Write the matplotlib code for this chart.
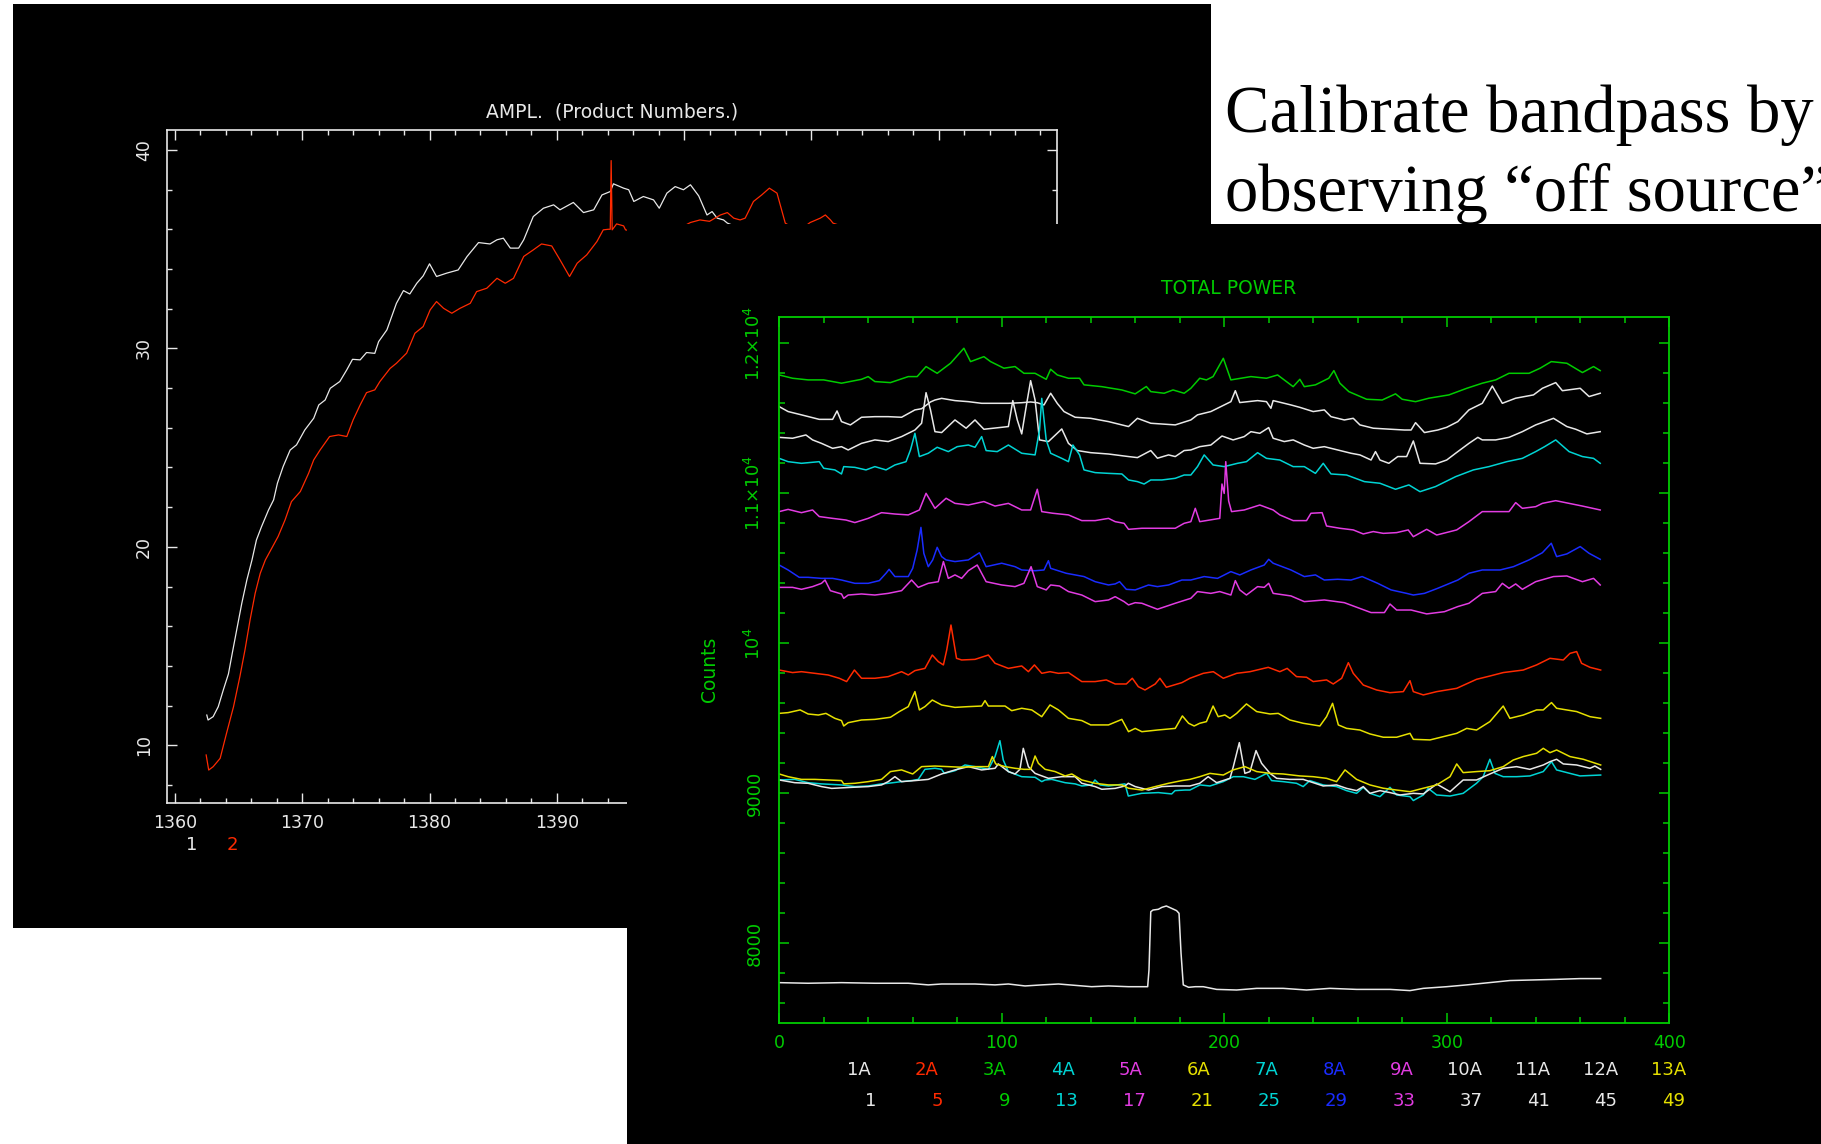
import matplotlib.pyplot as plt
from matplotlib.patches import Rectangle
from matplotlib.ticker import MultipleLocator

# ---------------- AMPL. panel: bandpass amplitude vs frequency ----------------
ampl_1 = [(1362.5, 11.53), (1362.6, 11.28), (1363.0, 11.45), (1363.4, 11.95), (1363.8, 12.8),
          (1364.2, 13.6), (1364.5, 14.64), (1364.85, 15.82), (1365.25, 17.16), (1365.65, 18.34),
          (1366.05, 19.34), (1366.4, 20.35), (1366.8, 21.02), (1367.35, 21.86), (1367.75, 22.37),
          (1368.05, 23.21), (1368.5, 24.05), (1369.05, 24.88), (1369.55, 25.14), (1370.2, 25.89),
          (1370.9, 26.48), (1371.3, 27.15), (1371.8, 27.4), (1372.2, 27.99), (1372.95, 28.33),
          (1373.5, 28.92), (1373.95, 29.45), (1374.55, 29.42), (1375.05, 29.79), (1375.7, 29.75),
          (1376.0, 30.34), (1376.65, 30.93), (1377.4, 32.27), (1377.95, 32.91), (1378.45, 32.74),
          (1379.0, 33.28), (1379.5, 33.65), (1380.0, 34.26), (1380.55, 33.62), (1381.35, 33.79),
          (1382.25, 33.95), (1382.95, 34.63), (1383.85, 35.33), (1384.75, 35.26), (1385.3, 35.47),
          (1385.8, 35.55), (1386.35, 35.05), (1387.0, 35.05), (1387.4, 35.47), (1388.15, 36.64),
          (1388.95, 37.06), (1389.75, 37.23), (1390.25, 36.98), (1391.3, 37.35), (1392.1, 36.84),
          (1392.9, 36.98), (1393.55, 37.73), (1394.2, 37.9), (1394.45, 38.29), (1395.25, 38.07),
          (1395.65, 37.99), (1396.05, 37.4), (1396.8, 37.65), (1397.6, 37.48), (1398.05, 37.06),
          (1398.65, 37.82), (1399.3, 38.15), (1399.95, 37.99), (1400.5, 38.24), (1401.15, 37.68),
          (1401.8, 36.72), (1402.2, 36.89), (1402.6, 36.56), (1403.1, 36.47), (1403.4, 36.31),
          (1405.0, 35.9), (1410.0, 35.6), (1416.0, 35.2), (1422.0, 35.3), (1428.0, 35.0)]

ampl_2 = [(1362.45, 9.52), (1362.65, 8.76), (1363.0, 8.93), (1363.55, 9.35), (1364.05, 10.61),
          (1364.6, 11.95), (1365.1, 13.47), (1365.5, 14.81), (1365.9, 16.32), (1366.3, 17.66),
          (1366.7, 18.67), (1367.1, 19.34), (1367.6, 19.93), (1368.1, 20.52), (1368.65, 21.36),
          (1369.15, 22.28), (1369.85, 22.79), (1370.5, 23.71), (1370.9, 24.38), (1371.4, 24.88),
          (1372.15, 25.56), (1372.85, 25.64), (1373.5, 25.56), (1374.0, 26.4), (1374.55, 27.15),
          (1375.05, 27.77), (1375.7, 27.91), (1376.1, 28.33), (1376.9, 28.99), (1377.4, 29.25),
          (1378.2, 29.76), (1378.85, 30.76), (1379.5, 31.1), (1380.05, 31.94), (1380.55, 32.36),
          (1381.1, 32.02), (1381.75, 31.77), (1382.4, 32.02), (1383.2, 32.27), (1383.7, 32.86),
          (1384.5, 33.03), (1385.3, 33.53), (1385.95, 33.28), (1386.6, 33.53), (1387.4, 34.63),
          (1388.15, 34.96), (1388.8, 35.26), (1389.6, 35.16), (1390.25, 34.46), (1391.0, 33.62),
          (1391.6, 34.29), (1392.35, 34.71), (1393.15, 35.38), (1393.65, 35.97), (1394.05, 36.0),
          (1394.2, 36.0), (1394.27, 39.46), (1394.35, 35.97), (1394.7, 36.27), (1395.25, 36.17),
          (1395.4, 35.97), (1397.5, 35.7), (1399.5, 36.0), (1400.5, 36.34), (1401.25, 36.47),
          (1402.0, 36.4), (1402.85, 36.72), (1403.4, 36.84), (1403.9, 36.56), (1404.4, 36.47),
          (1404.8, 36.56), (1405.45, 37.4), (1406.1, 37.73), (1406.7, 38.07), (1407.3, 37.82),
          (1407.7, 36.89), (1407.95, 36.31), (1409.0, 35.9), (1409.9, 36.34), (1410.7, 36.56),
          (1411.1, 36.72), (1411.5, 36.47), (1411.7, 36.31), (1414.0, 35.8), (1420.0, 35.9),
          (1428.0, 35.6)]

ampl_xticks = [1360, 1370, 1380, 1390, 1400, 1410, 1420]
ampl_yticks = [10, 20, 30, 40]

# ---------------- TOTAL POWER panel: counts per channel ----------------
tp_3A = [(0, 11790), (6, 11768), (13, 11757), (20, 11757), (28, 11735), (37, 11761), (40, 11779),
         (43, 11746), (50, 11739), (58, 11779), (62, 11779), (66, 11846), (71, 11801), (77, 11868),
         (83, 11968), (86, 11879), (92, 11912), (95, 11879), (101, 11835), (106, 11846), (110, 11801),
         (115, 11801), (120, 11761), (122, 11828), (125, 11790), (130, 11768), (135, 11768),
         (137, 11724), (145, 11712), (154, 11690), (160, 11664), (165, 11713), (167, 11679),
         (173, 11668), (177, 11690), (182, 11668), (185, 11701), (189, 11768), (192, 11757),
         (195, 11779), (199.6, 11901), (203, 11757), (212, 11779), (219, 11768), (224, 11790),
         (231, 11712), (234, 11761), (236, 11712), (241, 11724), (247, 11768), (249.3, 11819),
         (252, 11735), (256, 11679), (264, 11628), (271, 11623), (277, 11664), (280, 11628),
         (286, 11612), (292, 11635), (301, 11657), (309, 11701), (316, 11735), (322, 11757),
         (328, 11801), (337, 11801), (342, 11835), (347, 11879), (354, 11868), (361, 11806),
         (366, 11846), (369, 11819)]

tp_10A = [(0, 11579), (4, 11546), (10, 11524), (18, 11494), (24, 11494), (26, 11550), (28, 11479),
          (32, 11457), (37, 11508), (43, 11512), (49, 11512), (55, 11508), (61, 11557), (64, 11565),
          (68, 11610), (70, 11623), (73, 11634), (79, 11619), (85, 11612), (91, 11601), (97, 11601),
          (103, 11601), (109, 11605), (113, 11610), (116, 11605), (119, 11590), (122, 11668),
          (125, 11600), (128, 11546), (133, 11508), (140, 11501), (148, 11479), (157, 11446),
          (161, 11501), (167, 11468), (178, 11457), (185, 11490), (188, 11524), (194, 11546),
          (200, 11590), (203, 11612), (205, 11685), (207, 11606), (215, 11619), (219, 11612),
          (221, 11568), (222, 11619), (227, 11601), (230, 11590), (234, 11574), (240, 11546),
          (245, 11557), (248, 11512), (254, 11490), (258, 11501), (261, 11457), (267, 11435),
          (275, 11428), (281, 11423), (284, 11423), (286, 11472), (290, 11406), (296, 11423),
          (300, 11441), (305, 11479), (310, 11557), (316, 11601), (320.5, 11716), (325, 11601),
          (331, 11635), (339, 11657), (343, 11701), (349, 11739), (352, 11685), (360, 11701),
          (364, 11646), (369, 11668)]

tp_11A = [(0, 11374), (6, 11368), (12, 11390), (15, 11357), (19, 11334), (24, 11301), (28, 11312),
          (31, 11290), (37, 11334), (43, 11357), (49, 11346), (55, 11379), (61, 11423), (64, 11468),
          (66, 11672), (68, 11557), (70, 11412), (73, 11406), (79, 11490), (84, 11435), (88, 11490),
          (92, 11428), (100, 11441), (103, 11446), (105, 11619), (107, 11490), (109, 11397),
          (111, 11579), (113, 11752), (115, 11623), (117, 11357), (121, 11346), (127, 11430),
          (130, 11334), (134, 11286), (140, 11272), (148, 11263), (157, 11246), (161, 11239),
          (167, 11286), (170, 11235), (175, 11257), (178, 11246), (182, 11286), (185, 11290),
          (189, 11312), (194, 11323), (199, 11383), (204, 11357), (209, 11379), (212, 11412),
          (216, 11401), (220, 11439), (222, 11368), (227, 11346), (231, 11357), (236, 11323),
          (240, 11301), (245, 11312), (251, 11290), (257, 11268), (261, 11257), (266, 11223),
          (268, 11279), (270, 11223), (274, 11201), (278, 11246), (282, 11246), (285, 11350),
          (288, 11201), (295, 11197), (300, 11223), (304, 11268), (310, 11334), (314, 11374),
          (316, 11357), (322, 11357), (328, 11374), (334, 11412), (340, 11457), (348, 11501),
          (354, 11446), (358, 11428), (363, 11397), (369, 11412)]

tp_7A = [(0, 11234), (4, 11212), (10, 11201), (18, 11212), (20, 11168), (25, 11157), (28, 11130),
         (29, 11179), (34, 11174), (39, 11157), (43, 11179), (48, 11157), (52, 11190), (57, 11212),
         (59, 11290), (61, 11401), (63, 11246), (67, 11268), (71, 11308), (76, 11279), (80, 11312),
         (85, 11323), (88, 11308), (91, 11379), (93, 11286), (98, 11279), (103, 11323), (109, 11268),
         (115, 11257), (117, 11423), (118, 11634), (120, 11357), (122, 11268), (127, 11234),
         (130, 11212), (132, 11323), (135, 11257), (137, 11157), (142, 11139), (148, 11134),
         (154, 11130), (157, 11090), (161, 11079), (164, 11063), (167, 11090), (172, 11090),
         (178, 11101), (182, 11123), (185, 11123), (188, 11179), (191, 11257), (195, 11190),
         (200, 11179), (206, 11201), (210, 11212), (215, 11272), (219, 11234), (225, 11223),
         (231, 11179), (236, 11179), (241, 11134), (244.5, 11201), (248, 11130), (255, 11123),
         (263, 11079), (270, 11068), (277, 11028), (283, 11057), (288, 11012), (295, 11046),
         (304, 11112), (312, 11157), (319, 11179), (327, 11212), (334, 11234), (340, 11279),
         (344, 11312), (349, 11357), (355, 11279), (361, 11246), (366, 11234), (369, 11201)]

tp_9A = [(0, 10879), (4, 10894), (10, 10872), (15, 10890), (18, 10846), (24, 10834), (30, 10823),
         (34, 10806), (40, 10834), (46, 10872), (52, 10863), (58, 10857), (63, 10890), (66, 11001),
         (70, 10901), (75, 10968), (79, 10934), (85, 10923), (92, 10946), (97, 10916), (103, 10934),
         (109, 10890), (113, 10890), (116, 11028), (118, 10879), (123, 10868), (130, 10857),
         (136, 10819), (142, 10819), (148, 10834), (151, 10812), (155, 10801), (157, 10761),
         (163, 10768), (170, 10768), (178, 10768), (182, 10801), (185, 10812), (187, 10901),
         (189, 10812), (198, 10834), (199, 11063), (200, 11000), (200.7, 11212), (202, 10950),
         (203.3, 10879), (209, 10890), (216, 10923), (222, 10890), (225, 10857), (231, 10819),
         (237, 10819), (239, 10868), (244, 10872), (246, 10783), (252, 10768), (258, 10757),
         (262.5, 10730), (267, 10746), (271.5, 10734), (277.5, 10739), (282.7, 10757), (285, 10712),
         (291, 10761), (295.5, 10723), (304.5, 10757), (310, 10812), (316, 10879), (322, 10879),
         (328, 10879), (331, 10939), (334, 10901), (340, 10912), (343, 10934), (349, 10952),
         (355, 10934), (361, 10916), (369, 10890)]

tp_8A = [(0, 10523), (4, 10490), (9, 10441), (13, 10441), (19, 10434), (24, 10434), (28, 10423),
         (34, 10401), (40, 10401), (45, 10419), (48, 10468), (49.4, 10494), (52, 10446), (58, 10446),
         (60, 10501), (62, 10623), (63.7, 10774), (65, 10601), (67, 10512), (69, 10557), (71, 10641),
         (73, 10579), (75, 10557), (79, 10546), (85, 10557), (90, 10605), (93, 10512), (100, 10535),
         (106, 10512), (109, 10490), (115, 10485), (119, 10490), (121, 10552), (122, 10501),
         (129, 10468), (133, 10457), (137, 10446), (142, 10412), (148, 10390), (151, 10397),
         (153, 10412), (156, 10361), (160, 10357), (166, 10390), (170, 10379), (175, 10390),
         (181, 10423), (185, 10423), (191, 10446), (197, 10434), (203, 10479), (207, 10457),
         (212, 10490), (218, 10523), (220, 10561), (222, 10535), (230, 10490), (236, 10446),
         (241, 10457), (245, 10423), (251, 10428), (257, 10423), (262, 10446), (269, 10401),
         (275, 10357), (282, 10334), (285, 10323), (290, 10334), (296, 10368), (305, 10423),
         (310, 10468), (316, 10490), (324, 10490), (330, 10512), (337, 10557), (343, 10605),
         (347, 10668), (349.4, 10579), (354, 10597), (360, 10646), (364, 10601), (369, 10561)]

tp_5A = [(0, 10374), (6, 10374), (10, 10361), (15, 10379), (19, 10401), (20.6, 10423), (23, 10352),
         (28, 10330), (29, 10301), (31, 10323), (37, 10330), (43, 10323), (49, 10334), (55, 10352),
         (59.5, 10423), (62.5, 10374), (67, 10401), (71.5, 10412), (73.8, 10546), (76, 10434),
         (79, 10457), (82, 10434), (85, 10485), (89, 10523), (93, 10412), (100, 10390), (106, 10379),
         (110, 10401), (113.2, 10512), (116, 10379), (120, 10357), (122, 10390), (126, 10383),
         (130, 10346), (136, 10323), (142, 10279), (148, 10290), (151, 10312), (155, 10279),
         (157, 10257), (160, 10272), (163, 10268), (170, 10228), (178, 10268), (185, 10301),
         (188, 10346), (194, 10334), (198, 10346), (203, 10323), (205, 10419), (207, 10357),
         (210, 10323), (215, 10379), (218, 10374), (220, 10401), (222, 10334), (230, 10317),
         (236, 10279), (245, 10290), (254, 10272), (258, 10250), (266, 10206), (272, 10206),
         (274.5, 10263), (277.5, 10223), (284, 10223), (291, 10197), (299, 10212), (305, 10246),
         (310, 10268), (316, 10334), (322, 10346), (325, 10401), (328, 10368), (331, 10397),
         (334, 10361), (340, 10412), (348, 10446), (354, 10450), (361, 10412), (366, 10434),
         (369, 10390)]

tp_2A = [(0, 9823), (6, 9806), (10, 9812), (16, 9801), (22, 9790), (27, 9768), (30.3, 9746),
         (33.8, 9823), (37, 9768), (43, 9768), (49, 9779), (55, 9812), (58, 9790), (61, 9819),
         (65.5, 9834), (68.8, 9923), (71.5, 9879), (73.8, 9857), (75.3, 9957), (77.2, 10123),
         (79.7, 9901), (82, 9890), (88, 9894), (94, 9923), (97, 9868), (103, 9834), (109, 9850),
         (112, 9812), (114.7, 9857), (118, 9801), (121.7, 9812), (125.5, 9801), (130, 9806),
         (136, 9746), (142, 9746), (147, 9757), (151, 9730), (156, 9730), (158.7, 9768),
         (161.4, 9712), (164.4, 9690), (169, 9730), (171.1, 9768), (174, 9708), (181, 9739),
         (184.6, 9768), (190.6, 9801), (195.1, 9812), (199.6, 9768), (205.6, 9801), (211.6, 9812),
         (219.8, 9841), (225, 9812), (228.3, 9834), (232.5, 9779), (237, 9775), (240, 9746),
         (246, 9757), (249, 9730), (252.8, 9768), (255.8, 9872), (258, 9801), (262.5, 9723),
         (268.5, 9690), (274.5, 9672), (280.5, 9679), (283.5, 9752), (285, 9679), (289.5, 9657),
         (295.5, 9679), (304.5, 9701), (313.4, 9761), (319.4, 9783), (325.4, 9806), (334.4, 9823),
         (340.4, 9857), (346.4, 9901), (352.4, 9890), (355.4, 9934), (358.4, 9946), (360.6, 9868),
         (364.4, 9841), (369.2, 9823)]

tp_13A = [(0, 9534), (4, 9539), (9.4, 9557), (13, 9530), (17.6, 9523), (21, 9534), (25, 9501),
          (28, 9486), (29, 9450), (31, 9472), (37, 9490), (43, 9494), (50, 9508), (54, 9546),
          (58, 9579), (61, 9679), (63, 9557), (65.5, 9579), (68.8, 9623), (73, 9590), (79, 9574),
          (85, 9579), (91, 9583), (92.5, 9619), (94, 9583), (101.5, 9583), (104.5, 9552), (109, 9568),
          (113.5, 9557), (118, 9512), (121.7, 9590), (125.5, 9557), (130, 9501), (136, 9486),
          (140, 9457), (148, 9457), (154, 9494), (157, 9412), (160, 9434), (163, 9412), (170, 9423),
          (178, 9434), (181.2, 9517), (184, 9468), (186.5, 9450), (189, 9468), (192, 9479),
          (195, 9583), (197.3, 9512), (200.3, 9523), (202.6, 9501), (205.6, 9534), (210, 9597),
          (214.6, 9546), (220.6, 9530), (224.3, 9534), (229.5, 9490), (235.5, 9468), (243, 9450),
          (246, 9512), (248.7, 9601), (251.3, 9457), (255, 9434), (261, 9423), (265.5, 9397),
          (271.5, 9375), (277.5, 9375), (283.5, 9401), (285, 9361), (292.5, 9357), (298.5, 9379),
          (304.5, 9401), (309, 9434), (313.4, 9423), (319.4, 9479), (325.4, 9583), (328.4, 9501),
          (334.4, 9523), (340.4, 9557), (343.4, 9557), (347.1, 9606), (349.4, 9568), (358.4, 9546),
          (364.4, 9512), (369.2, 9501)]

tp_6A = [(0, 9130), (4, 9112), (10, 9094), (16, 9094), (22, 9090), (28, 9086), (29, 9064),
         (34, 9068), (40, 9079), (46, 9094), (50, 9146), (55, 9157), (60, 9130), (64, 9179),
         (70, 9183), (76, 9179), (82, 9175), (88, 9179), (94, 9179), (95.8, 9246), (97.3, 9197),
         (101.5, 9179), (106, 9168), (110, 9161), (113, 9161), (115, 9250), (116.5, 9201),
         (119.5, 9161), (124, 9146), (128.5, 9117), (131.5, 9130), (136, 9090), (142, 9068),
         (148, 9057), (154, 9057), (157, 9035), (163, 9023), (169, 9046), (175, 9068), (181, 9086),
         (184.6, 9094), (189, 9112), (193.6, 9134), (199.6, 9123), (204, 9157), (209.3, 9179),
         (214.6, 9146), (220.6, 9134), (226.5, 9130), (234, 9117), (240, 9112), (246, 9101),
         (250.5, 9079), (254.3, 9157), (259.5, 9094), (265.5, 9057), (271.5, 9035), (277.5, 9023),
         (283.5, 9012), (289.5, 9035), (295.5, 9057), (301.5, 9112), (304.5, 9197), (307.4, 9139),
         (313.4, 9146), (319.4, 9152), (325.4, 9179), (329.9, 9223), (334.4, 9246), (340.4, 9268),
         (343.4, 9301), (346.4, 9272), (349.4, 9290), (355.4, 9246), (361.4, 9228), (369.2, 9190)]

tp_1A = [(0, 9090), (7, 9072), (13, 9068), (19, 9046), (23.6, 9034), (32.6, 9041), (40, 9046),
         (46, 9057), (49, 9079), (52, 9112), (55, 9079), (61, 9086), (67, 9094), (73, 9130),
         (79, 9157), (85, 9179), (91, 9157), (97, 9168), (98.5, 9197), (103, 9146), (106, 9130),
         (108.2, 9161), (109.7, 9301), (112, 9179), (115, 9134), (121, 9101), (127, 9112),
         (133, 9112), (136, 9068), (142, 9046), (145, 9028), (151, 9034), (155.4, 9050),
         (156.9, 9068), (160, 9046), (166, 9023), (172, 9046), (178, 9050), (184.6, 9050),
         (189, 9068), (192.8, 9112), (196.6, 9072), (202.6, 9101), (204.1, 9179), (206.8, 9339),
         (209.3, 9134), (211.6, 9146), (214.3, 9286), (216.8, 9201), (220.6, 9134), (223.6, 9101),
         (229.5, 9094), (235.5, 9094), (240, 9072), (244.5, 9050), (250.5, 9057), (255, 9034),
         (259.5, 9019), (262.5, 9046), (265.5, 9001), (270, 9019), (274.5, 9006), (279, 8990),
         (285, 9001), (289.5, 8997), (295.5, 9063), (301.5, 9012), (307.4, 9090), (313.4, 9090),
         (319.4, 9130), (325.4, 9168), (331.4, 9179), (337.4, 9161), (343.4, 9190), (346.4, 9212),
         (349.4, 9228), (352.4, 9197), (358.4, 9190), (364.4, 9168), (366.6, 9183), (369.2, 9161)]

tp_4A = [(0, 9090), (7, 9094), (13, 9072), (19, 9064), (28, 9057), (34, 9046), (40, 9050),
         (46, 9064), (49, 9068), (55, 9079), (59.5, 9086), (62.5, 9094), (65.5, 9161), (70, 9168),
         (73, 9161), (74.2, 9134), (79, 9152), (83.5, 9190), (88, 9179), (94, 9161), (97, 9246),
         (99.2, 9352), (100.7, 9223), (103, 9146), (109, 9112), (115, 9108), (118, 9079),
         (119.5, 9090), (122.5, 9094), (128.5, 9072), (133, 9064), (136, 9050), (140.4, 9057),
         (141.9, 9090), (144.2, 9057), (148, 9050), (155.4, 9064), (156.9, 8983), (162.9, 9001),
         (170.4, 9006), (176.4, 8997), (177.9, 9019), (182.4, 9023), (184.6, 9023), (189.1, 9057),
         (193.6, 9050), (199.6, 9079), (204.1, 9112), (208.6, 9112), (213.8, 9094), (219.1, 9134),
         (221.3, 9086), (226.5, 9079), (232.5, 9068), (235.5, 9046), (238.5, 9086), (244.5, 9057),
         (250.5, 9046), (255, 9019), (259.5, 9001), (262.5, 9041), (265.5, 9001), (270, 8979),
         (274.5, 9041), (277.5, 8990), (283.5, 8979), (285, 8953), (289.5, 8990), (291.7, 9034),
         (295.5, 8990), (301.5, 8983), (307.4, 9001), (313.4, 9068), (316.4, 9112), (319.4, 9228),
         (321.7, 9134), (325.4, 9112), (331.4, 9112), (337.4, 9117), (343.4, 9146), (347.1, 9212),
         (349.4, 9157), (355.4, 9134), (359.9, 9117), (369.2, 9123)]

tp_12A = [(0, 7739), (13, 7735), (28, 7739), (43, 7735), (58, 7735), (67, 7724), (73, 7730),
          (88, 7730), (97, 7724), (103, 7730), (110.5, 7717), (118, 7724), (125.5, 7730),
          (133, 7721), (140.4, 7712), (148, 7717), (157, 7712), (165.6, 7712), (166.2, 7824),
          (167, 8212), (168, 8223), (170.4, 8228), (172, 8241), (174, 8250), (176.4, 8234),
          (178.6, 8219), (179.7, 8201), (180.6, 7935), (181.6, 7724), (184, 7708), (187, 7712),
          (190.6, 7712), (196.6, 7694), (205.6, 7690), (214.6, 7701), (226.5, 7701), (237, 7690),
          (247.5, 7701), (259.5, 7694), (274.5, 7694), (283.5, 7686), (289.5, 7701), (300, 7712),
          (309, 7724), (316.4, 7735), (328.4, 7753), (338.9, 7757), (349.4, 7761), (359.9, 7766),
          (369.2, 7766)]

# legend rows printed under the TOTAL POWER plot
tp_labels = ['1A', '2A', '3A', '4A', '5A', '6A', '7A', '8A', '9A', '10A', '11A', '12A', '13A']
tp_numbers = ['1', '5', '9', '13', '17', '21', '25', '29', '33', '37', '41', '45', '49']
tp_xticks = [0, 100, 200, 300, 400]
tp_yticks = [8000, 9000, 10000, 11000, 12000]
tp_yticklabels = ['8000', '9000', r'$10^4$', r'$1.1{\times}10^4$', r'$1.2{\times}10^4$']

# pgplot-like colour table
WHITE = '#e8e8e8'
RED = '#ff2a00'
GREEN = '#00cc00'
CYAN = '#00d4d4'
MAGENTA = '#e23ce2'
YELLOW = '#e6e000'
BLUE = '#1a2cff'
label_colors = [WHITE, RED, GREEN, CYAN, MAGENTA, YELLOW, CYAN, BLUE, MAGENTA,
                WHITE, WHITE, WHITE, YELLOW]

W, H = 1821, 1144
fig = plt.figure(figsize=(W / 100, H / 100), dpi=100)
fig.patch.set_facecolor('white')


def fx(px):
    return px / W


def fy(py):
    return 1 - py / H


def xy(pairs):
    return [p[0] for p in pairs], [p[1] for p in pairs]


# black backdrop of the AMPL. plot
fig.add_artist(Rectangle((fx(13), fy(928)), (1211 - 13) / W, (928 - 4) / H,
                         transform=fig.transFigure, facecolor='black',
                         edgecolor='none', zorder=0))

ax1 = fig.add_axes([fx(166.7), fy(803.4), (1057 - 166.7) / W, (803.4 - 130) / H], zorder=1)
ax1.set_facecolor('black')
ax1.plot(*xy(ampl_1), color=WHITE, lw=0.9)
ax1.plot(*xy(ampl_2), color=RED, lw=0.9)
ax1.set_xlim(1359.35, 1429.3)
ax1.set_ylim(7.08, 41.0)
ax1.set_xticks(ampl_xticks)
ax1.set_yticks(ampl_yticks)
ax1.xaxis.set_minor_locator(MultipleLocator(2))
ax1.yaxis.set_minor_locator(MultipleLocator(2))
ax1.tick_params(which='both', direction='in', top=True, right=True, color=WHITE, width=1)
ax1.tick_params(which='major', length=7.5)
ax1.tick_params(which='minor', length=3.5)
ax1.tick_params(axis='x', labelcolor=WHITE, labelsize=12.5, pad=7.5)
ax1.tick_params(axis='y', labelcolor=WHITE, labelsize=12.5, pad=10, labelrotation=90)
for lab in ax1.get_yticklabels():
    lab.set_va('center')
for sp in ax1.spines.values():
    sp.set_color(WHITE)
    sp.set_linewidth(1.2)
ax1.text(0.5, 1.026, 'AMPL.  (Product Numbers.)', transform=ax1.transAxes,
         ha='center', va='center', color=WHITE, fontsize=13.5)
fig.text(fx(191.6), fy(845.5), '1', color=WHITE, fontsize=13, ha='center', va='center')
fig.text(fx(232.3), fy(845.5), '2', color=RED, fontsize=13, ha='center', va='center')

# black backdrop of the TOTAL POWER plot, laid over the first one
fig.add_artist(Rectangle((fx(627), 0), (W - 627) / W, (H - 224) / H,
                         transform=fig.transFigure, facecolor='black',
                         edgecolor='none', zorder=2))

ax2 = fig.add_axes([fx(779.2), fy(1022.7), 890 / W, (1022.7 - 316.9) / H], zorder=3)
ax2.set_facecolor('black')
curves = [(tp_12A, WHITE), (tp_3A, GREEN), (tp_10A, WHITE), (tp_11A, WHITE), (tp_7A, CYAN),
          (tp_9A, MAGENTA), (tp_8A, BLUE), (tp_5A, MAGENTA), (tp_2A, RED), (tp_13A, YELLOW),
          (tp_4A, CYAN), (tp_1A, WHITE), (tp_6A, YELLOW)]
for pairs, col in curves:
    ax2.plot(*xy(pairs), color=col, lw=1.1)
ax2.set_xlim(0, 400)
ax2.set_ylim(7472, 12177)
ax2.set_xticks(tp_xticks)
ax2.set_yticks(tp_yticks)
ax2.set_yticklabels(tp_yticklabels)
ax2.xaxis.set_minor_locator(MultipleLocator(20))
ax2.yaxis.set_minor_locator(MultipleLocator(200))
ax2.tick_params(which='both', direction='in', top=True, right=True, color=GREEN, width=1.1)
ax2.tick_params(which='major', length=7.5)
ax2.tick_params(which='minor', length=4.5)
ax2.tick_params(axis='x', labelcolor=GREEN, labelsize=12.5, pad=8)
ax2.tick_params(axis='y', labelcolor=GREEN, labelsize=13, pad=11, labelrotation=90)
for lab in ax2.get_yticklabels():
    lab.set_va('center')
for sp in ax2.spines.values():
    sp.set_color(GREEN)
    sp.set_linewidth(1.3)
fig.text(fx(1229), fy(288), 'TOTAL POWER', color=GREEN, fontsize=13.5,
         ha='center', va='center', zorder=4)
fig.text(fx(709.6), fy(669.8), 'Counts', color=GREEN, fontsize=13.5, rotation=90,
         ha='center', va='center', zorder=4)
for i, (lab, num, col) in enumerate(zip(tp_labels, tp_numbers, label_colors)):
    fig.text(fx(871 + 67.9 * i), fy(1070), lab, color=col, fontsize=13,
             ha='right', va='center', zorder=4)
    fig.text(fx(876 + 67.4 * i), fy(1101), num, color=col, fontsize=13,
             ha='right', va='center', zorder=4)

# slide caption
fig.text(fx(1225), fy(131.7), 'Calibrate bandpass by', family='Liberation Serif',
         fontsize=48, color='black', ha='left', va='baseline', zorder=4)
fig.text(fx(1225), fy(210.7), 'observing \u201coff source\u201d', family='Liberation Serif',
         fontsize=48, color='black', ha='left', va='baseline', zorder=4)

fig.savefig('out.png', dpi=100, facecolor='white')
